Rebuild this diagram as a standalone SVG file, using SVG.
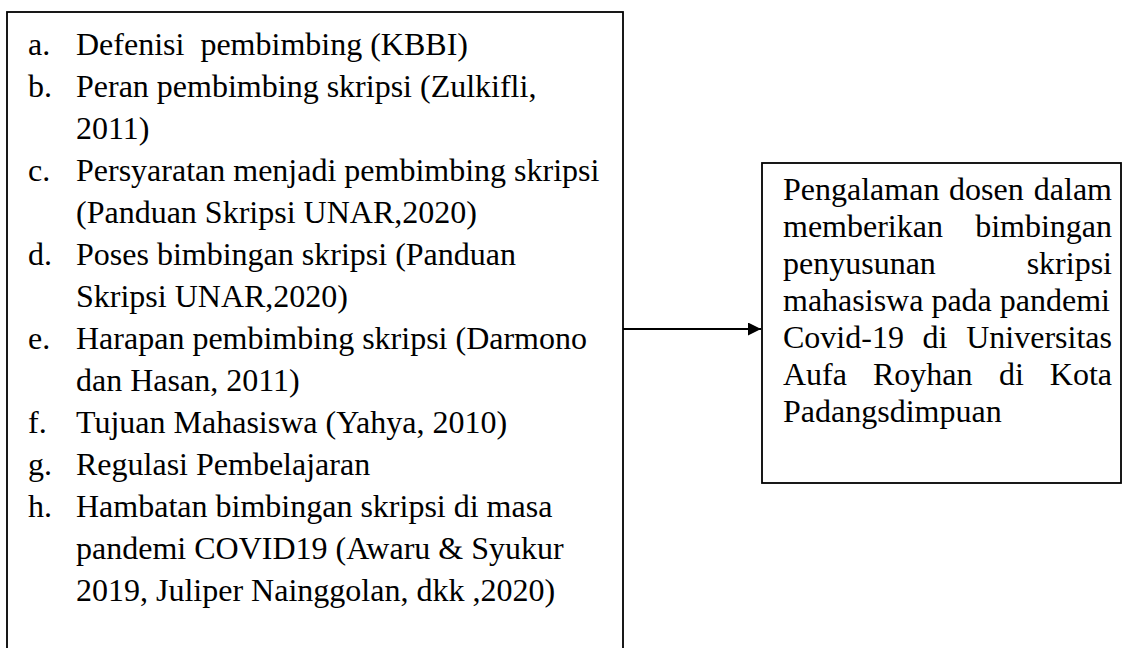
<svg xmlns="http://www.w3.org/2000/svg" width="1126" height="648" viewBox="0 0 1126 648">
  <style>
    .box { fill: #ffffff; stroke: #000000; stroke-width: 1.8; }
    .t { font-family: "Liberation Serif", "Times New Roman", Tinos, "DejaVu Serif", serif; font-size: 32px; fill: #000000; }
    .end { text-anchor: end; }
    .conn { stroke: #000000; stroke-width: 2; fill: none; }
  </style>
  <defs>
    <marker id="arrow" viewBox="0 0 10 10" refX="10" refY="5" markerWidth="7" markerHeight="6.5" markerUnits="strokeWidth" orient="auto">
      <path d="M0,0 L10,5 L0,10 Z" fill="#000000"/>
    </marker>
  </defs>
  <rect width="1126" height="648" fill="#ffffff"/>

  <g id="node-sources">
    <rect class="box" x="7" y="12" width="616" height="660"/>
    <g class="t" font-family="Liberation Serif, serif">
      <text x="28" y="55">a.</text>
      <text x="76" y="55" xml:space="preserve">Defenisi  pembimbing (KBBI)</text>
      <text x="28" y="97">b.</text>
      <text x="76" y="97">Peran pembimbing skripsi (Zulkifli,</text>
      <text x="76" y="139">2011)</text>
      <text x="28" y="181">c.</text>
      <text x="76" y="181">Persyaratan menjadi pembimbing skripsi</text>
      <text x="76" y="223">(Panduan Skripsi UNAR,2020)</text>
      <text x="28" y="265">d.</text>
      <text x="76" y="265">Poses bimbingan skripsi (Panduan</text>
      <text x="76" y="307">Skripsi UNAR,2020)</text>
      <text x="28" y="349">e.</text>
      <text x="76" y="349">Harapan pembimbing skripsi (Darmono</text>
      <text x="76" y="391">dan Hasan, 2011)</text>
      <text x="28" y="433">f.</text>
      <text x="76" y="433">Tujuan Mahasiswa (Yahya, 2010)</text>
      <text x="28" y="475">g.</text>
      <text x="76" y="475">Regulasi Pembelajaran</text>
      <text x="28" y="517">h.</text>
      <text x="76" y="517">Hambatan bimbingan skripsi di masa</text>
      <text x="76" y="559">pandemi COVID19 (Awaru &amp; Syukur</text>
      <text x="76" y="601">2019, Juliper Nainggolan, dkk ,2020)</text>
    </g>
  </g>

  <g id="node-result">
    <rect class="box" x="762" y="163" width="359" height="320"/>
    <g class="t" font-family="Liberation Serif, serif">
      <text x="783" y="200">Pengalaman</text>
      <text x="949" y="200">dosen</text>
      <text class="end" x="1112" y="200">dalam</text>
      <text x="783" y="237">memberikan</text>
      <text class="end" x="1112" y="237">bimbingan</text>
      <text x="783" y="274">penyusunan</text>
      <text class="end" x="1112" y="274">skripsi</text>
      <text x="783" y="311">mahasiswa pada pandemi</text>
      <text x="783" y="348">Covid-19</text>
      <text x="922.6" y="348">di</text>
      <text class="end" x="1112" y="348">Universitas</text>
      <text x="783" y="385">Aufa</text>
      <text x="873" y="385">Royhan</text>
      <text x="999" y="385">di</text>
      <text class="end" x="1112" y="385">Kota</text>
      <text x="783" y="422">Padangsdimpuan</text>
    </g>
  </g>

  <g id="connectors">
    <line class="conn" x1="623" y1="329" x2="761" y2="329" marker-end="url(#arrow)"/>
  </g>
</svg>
